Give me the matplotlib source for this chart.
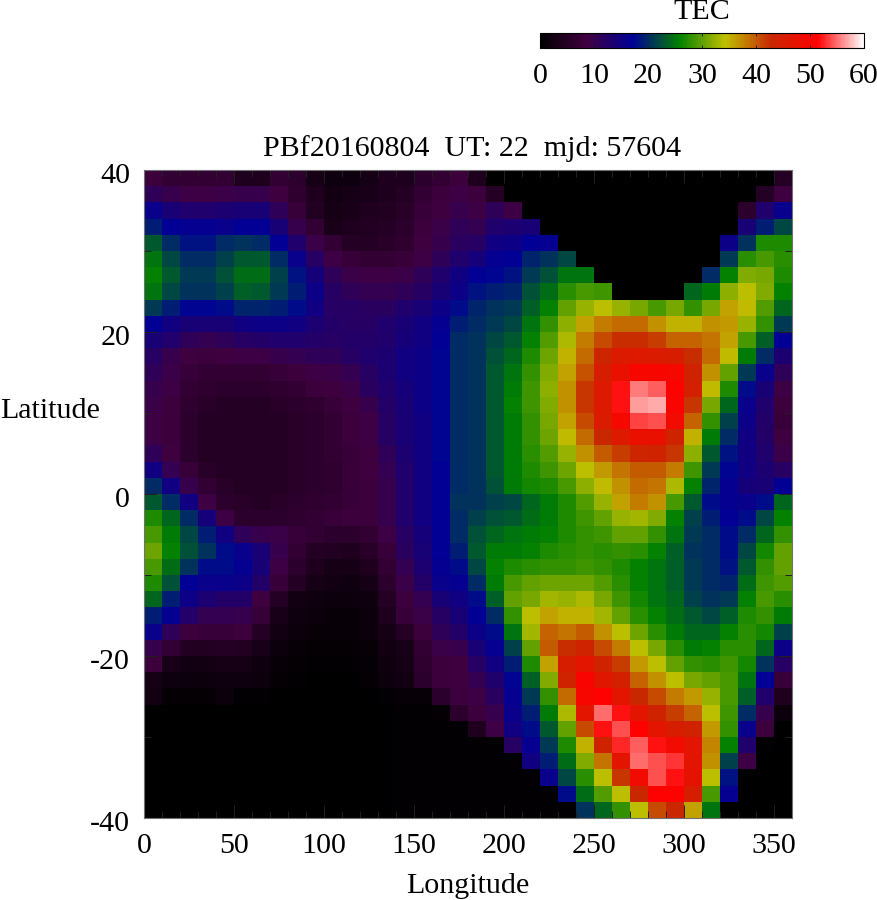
import numpy as np
import matplotlib
matplotlib.use('Agg')
import matplotlib.pyplot as plt
from matplotlib.colors import LinearSegmentedColormap
from matplotlib.ticker import MultipleLocator
from matplotlib.transforms import ScaledTranslation

plt.rcParams['font.family'] = ['Liberation Serif', 'DejaVu Serif']
plt.rcParams['axes.unicode_minus'] = False

# TEC, one row per 2 deg of latitude (top = 40), 10 deg columns
tec_north = [
    [8,7,7,7,7,4,4,7,6,3,2,2,3,4,4,6,7,8, 4,.2,.2,.2,.2,.2,.2,.2,.2,.2,.2,.2,.2,.2,.2,.2,.2,5],
    [11,10,9,9,9.5,10,10,8.5,6.5,4,2.5,3,3.5,4,5,7,8,9, 8,5,.2,.2,.2,.2,.2,.2,.2,.2,.2,.2,.2,.2,.2,.2,5,8.5],
    [16,14,13,13,13.5,14,14,11,7.5,4.5,3,3.5,4,4.5,5.5,7.5,8.5,10, 9,11,9,.2,.2,.2,.2,.2,.2,.2,.2,.2,.2,.2,.2,6,13,16],
    [19,17,16.5,16.5,16,17,17,14,10,7,3.5,4,4.5,5,6,8,9.5,11, 10.5,13,13.5,14,.2,.2,.2,.2,.2,.2,.2,.2,.2,.2,.2,14,19,22],
    [23,20,18.5,18.5,20,20.5,20,17,13,9.5,7,5,5,5.5,6.5,8.5,10,11.5, 12,15,15.5,17,16.5,.2,.2,.2,.2,.2,.2,.2,.2,.2,15.5,20.5,27,27],
    [25,22,20,20,21.5,23,23,20,16,12,9,7.5,7,7,7.5,9,11,13, 14.5,16.5,17,19.5,20.5,22,.2,.2,.2,.2,.2,.2,.2,.2,21,27.5,29,27.5],
    [26,23,21,21,22.5,24.5,24.5,21.5,18.5,14.5,11,9.5,9,9,9.5,11,13,15, 17,17.5,18.5,21,22.5,25,25,.2,.2,.2,.2,.2,.2,20,26,31.5,31,27],
    [25,22,20.5,20.5,21.5,23.5,23,21,19,15.5,12,11,10.5,10.5,11,12,14,15.5, 18.5,19,19.5,22.5,24.5,27.5,29,28.5,.2,.2,.2,.2,24,25.5,32,34,31.5,26],
    [21,19,17.5,17.5,18,19.5,19.5,19,18,15,12,12,11.5,11.5,13,14,15.5,18, 19.5,20.5,21,23.5,26,30,32.5,34,32.5,31,29,31,28,31,36,34.5,29.5,24],
    [17,15,14,14,14,15,15.5,15.5,15,13.5,12.5,12,12,13,14,15,16.5,19, 20,21,22,25,28,32,36,38,39,39,37,35,35,37,36.5,32.5,28,21],
    [14,13,11,10.5,11,12,12.5,13,13,12.5,12,12.5,12.5,13,14.5,15,17,20, 20.5,22,23,26,29.5,33.5,38,41,42.5,42.5,41.5,39.5,39.5,38.5,36,29,23.5,17],
    [12,10,8.5,8,8.5,9,9,10,10.5,11,11,12,13,13.5,15,15.5,17.5,20, 20.5,22.5,24,27,30.5,35,39,43.5,45.5,46,45.5,45,42.5,39,34.5,25.5,20,13.5],
    [11,9.5,7.5,7,7,7,7,7.5,8,9,9.5,10.5,12,13.5,15,15.5,17.5,20, 20.5,23,25,28,31.5,36,40.5,45,48,50,50,49.5,44,37,30,21,16,11],
    [10,9,7,6.5,6,6,6,6.5,7,8,8.5,9.5,11.5,13,14.5,15.5,17.5,20, 20.5,23,25.5,28.5,32,37,42,46,52,55.5,54.5,51,44.5,34.5,27,18,14,9],
    [9.5,8,6.5,5.5,5,5,5,5.5,6,6.5,7.5,8.5,10,12.5,14,15.5,17.5,20, 20.5,23,26,28.5,31.5,37,42,46,52,56.5,57,50.5,42,31,24,16,13,8],
    [9,8,6,5,5,5,5,5,5.5,6,7,8,9,12,14,15,17.5,20, 20.5,23,25.5,28,31,36,41,45.5,49.5,53.5,54,49,39.5,28,21.5,15.5,12.5,7.5],
    [9,8,6,5,5,5,5,5,5.5,6,7,8,9,12,14,15,17.5,20, 20.5,23,25.5,28,30.5,34.5,39,43,46,48,48,44,35,25.5,20,15,12.5,8.5],
    [11,8.5,6,5,5,5,5,5,5.5,6,7,7.5,8.5,11,13.5,15,17.5,20, 20.5,23,25.5,27.5,29.5,32.5,37,40,41.5,43.5,44,42,32,23,18.5,15,13,9.5],
    [15,10.5,7.5,5.5,5,5,5,5,5.5,6,6.5,7.5,8.5,10.5,13,15,17,20, 20.5,23,25.5,27,28.5,30.5,34,36.5,38.5,40,40,38,28.5,21,17.5,15,13.5,12],
    [20,15,10,7,5.5,5,5,5,5.5,6,6.5,7.5,8,10,13,15,17,20, 20.5,22.5,25.5,26.5,27,29,32,34.5,37,39,38.5,33.5,26,19.5,16.5,14.5,14,17],
]
tec_south = [
    [23,20,15,9,6,5.5,5,5.5,6,6.5,7,7.5,8,10,13,15,17,20.5, 20.5,21.5,22,24,25.5,27,29.5,32.5,36,38,37,29,23,18,16.5,16,18,24],
    [27,24,20,14.5,9,6,6,6,6.5,7,7.5,8,8,10,13,15,17,20, 21.5,22.5,23,24.5,25.5,27,28.5,30,32.5,33,31.5,26,21.5,19,17,18,22,26],
    [29,25.5,22,19,15,11,10,9.5,7.5,7,6,6,7,9,12,14.5,17,20, 22.5,24,25,25.5,26,27,28,28.5,30,30,28,25,21,20,18,20,24,28],
    [30.5,26,22.5,20.5,18,16,14,10,7,5,4.5,4,5.5,7.5,11.5,14,17,19, 23,25.5,25.5,26,27,27.5,28,27.5,28,27.5,26,23.5,20.5,20,18,22,26.5,30],
    [29,24.5,20.5,18,18,16.5,14,9,6,4,3,3,4,7,10.5,13.5,16.5,18, 22,26,27,27.5,28,28,28.5,28,27,26,25,23.5,21,20,18.5,23,28,30],
    [27,22.5,17,16,16,15.5,12.5,7.5,5,3,2.5,2,3,6,9.5,12.5,16,16.5, 20,25.5,29,30,30.5,30.5,30.5,29.5,27.5,26,25,23.5,21,20,19.5,24.5,28.5,29.5],
    [24,19,15.5,13.5,12.5,12.5,8.5,5,2.5,2,1.5,1.5,2,5,8,10.5,14,15, 18,23.5,30,31,33,32.5,33.5,31,28.5,26.5,25,24,21.5,20.5,21,26,29,27.5],
    [19,16.5,12.5,10.5,10.5,10,7.5,3.5,2,1.5,1,1,1.5,4,7.5,9.5,12,14, 17,20,28,34,36,35,35,33,30,27.5,26,24.5,23,22,23.5,27,28,25.5],
    [16,11,8,7.5,7.5,8,5,2.5,1.5,1,1,1,1.5,3,5,8,11,12.5, 15.5,18,25,33,39.5,38.5,40,37,34,30.5,27.5,25.5,24,24,26,27.5,26.5,21.5],
    [10,7,4.5,4.5,5,4.5,3.5,1.5,1,.5,.5,.5,1,2.5,3.5,7,9.5,10, 14,16.5,21.5,30,40,42.5,44,41,38,34,31,27.5,25.5,26,27.5,27.5,24,15.5],
    [8,3.5,2.5,2.5,3,3,2,1,.5,.3,.3,.3,.8,2,3,6.5,8,8.5, 12,15,19,27,36,45,47,44,41.5,36.5,34,30,28,27.5,28.5,26.5,20.5,12],
    [3,2,1.5,1.5,2,2,1.5,.7,.3,.2,.2,.2,.5,1.5,2.5,6,8,8.5, 10.5,13,17.5,23.5,31.5,44,50.5,46.5,44.5,39.5,37,34,31,30,29,25,17,7.5],
    [2.5,.5,.5,.5,1.5,.3,.3,.2,.2,.2,.2,.2,.2,.3,1,1,6,8, 9,11.5,16.5,21,28,39,50,51,47,43,41,38,36.5,32.5,29,23.5,13,4],
    [.2,.2,.2,.2,.2,.2,.2,.2,.2,.2,.2,.2,.2,.2,.3,.3,.5,6, 8,10,16,19,25.5,33.5,47,55,52,47,44,41.5,39.5,34,28.5,20,10,1.5],
    [.1,.1,.1,.1,.1,.1,.1,.1,.1,.1,.1,.1,.1,.1,.3,.3,.3,.3, 4,9,15,18,23,30,41,52,54,51,47,45,44,36.5,28,16,8,.1],
    [.1,.1,.1,.1,.1,.1,.1,.1,.1,.1,.1,.1,.1,.1,.3,.3,.3,.3, .3,.3,12,16.5,21,27,35,44,52.5,54.5,52,49,47,37.5,26,13,.3,.1],
    [.1,.1,.1,.1,.1,.1,.1,.1,.1,.1,.1,.1,.1,.1,.3,.3,.3,.3, .3,.3,.3,15,19,24.5,31.5,38.5,47,55,54,53,47,37,21.5,9,.2,.1],
    [.1,.1,.1,.1,.1,.1,.1,.1,.1,.1,.1,.1,.1,.1,.3,.3,.3,.3, .3,.3,.3,.3,16,22,27.5,34,42,49,54,52,47.5,34,18.5,.2,.1,.1],
    [.1,.1,.1,.1,.1,.1,.1,.1,.1,.1,.1,.1,.1,.1,.3,.3,.3,.3, .3,.3,.3,.3,.3,18,24.5,29.5,34,43,51,51,45,29,16.5,.2,.1,.1],
    [.1,.1,.1,.1,.1,.1,.1,.1,.1,.1,.1,.1,.1,.1,.3,.3,.3,.3, .3,.3,.3,.3,.3,.3,20.5,24,28,34,41,43,36,25,.2,.1,.1,.1],
]
lon_edges = np.arange(0, 361, 10)
lat_edges = np.arange(40, -41, -2)
cb_ticks = [0, 10, 20, 30, 40, 50, 60]
title = 'PBf20160804  UT: 22  mjd: 57604'

W, H = 878, 900
FS = 21.6


def make_palette():
    colors = ['#000000', '#400040', '#000096', '#008000',
              '#c0c000', '#c82800', '#ff0000', '#ffffff']
    return LinearSegmentedColormap.from_list('tec', colors, N=256)


def main():
    tec = np.array(tec_north + tec_south)
    fig = plt.figure(figsize=(W / 100, H / 100), dpi=100)

    # map
    ax = fig.add_axes([144 / W, 1 - 818 / H, 648 / W, 648 / H])
    mesh = ax.pcolormesh(lon_edges, lat_edges, tec, cmap=make_palette(), vmin=0, vmax=60)
    ax.set_xlim(0, 360)
    ax.set_ylim(-40, 40)
    ax.xaxis.set_major_locator(MultipleLocator(50))
    ax.xaxis.set_minor_locator(MultipleLocator(10))
    ax.yaxis.set_major_locator(MultipleLocator(20))
    ax.yaxis.set_minor_locator(MultipleLocator(10))
    ax.tick_params(which='both', direction='in', top=True, right=True, width=0.7, color='#202020')
    ax.tick_params(which='major', length=9.4, labelsize=FS)
    ax.tick_params(which='minor', length=5)
    ax.tick_params(axis='x', which='major', pad=11)
    ax.tick_params(axis='y', which='major', pad=10)
    # y labels sit a little below their ticks in the original
    nudge = ScaledTranslation(0, -3 / 100, fig.dpi_scale_trans)
    for label in ax.get_yticklabels():
        label.set_transform(label.get_transform() + nudge)
    for s in ax.spines.values():
        s.set_linewidth(0.8)
        s.set_color('#707070')
    fig.text(472 / W, 1 - 149 / H, title, ha='center', va='center', fontsize=FS)
    fig.text(468 / W, 1 - 886 / H, 'Longitude', ha='center', va='center', fontsize=FS)
    fig.text(0 / W, 1 - 411 / H, 'Latitude', ha='left', va='center', fontsize=FS)

    # colorbar on top
    cax = fig.add_axes([540 / W, 1 - 48 / H, 324 / W, 15 / H])
    cb = fig.colorbar(mesh, cax=cax, orientation='horizontal', ticks=cb_ticks)
    cb.ax.tick_params(direction='in', length=2.5, width=0.7, top=True, labelsize=FS, pad=11, color='#202020')
    cb.outline.set_linewidth(0.8)
    fig.text(702 / W, 1 - 12 / H, 'TEC', ha='center', va='center', fontsize=FS)

    fig.savefig('out.png', dpi=100)


if __name__ == "__main__":
    main()
